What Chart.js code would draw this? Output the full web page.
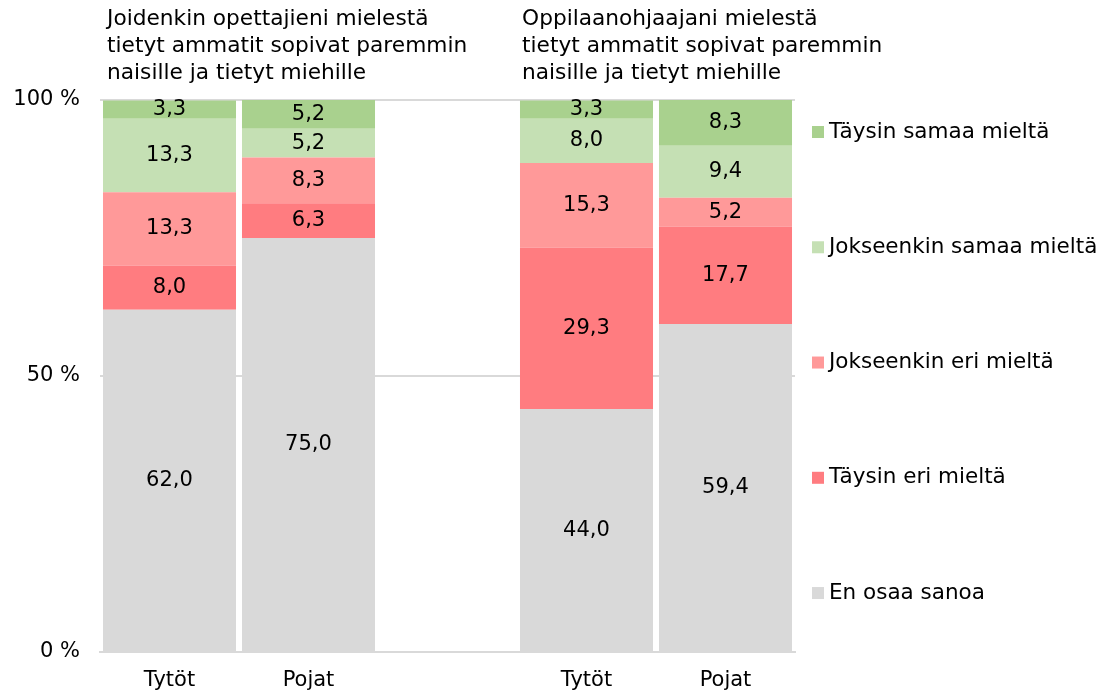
<!DOCTYPE html>
<html>
<head>
<meta charset="utf-8">
<script src="https://cdn.jsdelivr.net/npm/chart.js@4"></script>
<style>
  html, body { margin: 0; padding: 0; background: #fff; }
  #wrap { width: 1106px; height: 695px; }
</style>
</head>
<body>
<div id="wrap"><canvas id="chart" width="1106" height="695"></canvas></div>
<script>
// Kategoriat (tyhjä väli ryhmien välissä)
const categories = ["Tytöt", "Pojat", "", "Tytöt", "Pojat"];
const groupTitles = [
    ["Joidenkin opettajieni mielestä", "tietyt ammatit sopivat paremmin", "naisille ja tietyt miehille"],
    ["Oppilaanohjaajani mielestä", "tietyt ammatit sopivat paremmin", "naisille ja tietyt miehille"]
];
const yTicks = [0, 50, 100];

// Sarjat alhaalta ylös
const enOsaa = [62.0, 75.0, null, 44.0, 59.4];
const taysinEri = [8.0, 6.3, null, 29.3, 17.7];
const jokseenkinEri = [13.3, 8.3, null, 15.3, 5.2];
const jokseenkinSamaa = [13.3, 5.2, null, 8.0, 9.4];
const taysinSamaa = [3.3, 5.2, null, 3.3, 8.3];

const FONT = "'DejaVu Sans', Verdana, sans-serif";

// Arvot palkkien keskelle
const valueLabels = {
    id: "valueLabels",
    afterDatasetsDraw(chart) {
        const ctx = chart.ctx;
        ctx.save();
        ctx.font = "21px " + FONT;
        ctx.fillStyle = "#000";
        ctx.textAlign = "center";
        ctx.textBaseline = "middle";
        chart.data.datasets.forEach((ds, i) => {
            chart.getDatasetMeta(i).data.forEach((bar, j) => {
                const v = ds.data[j];
                if (v == null) return;
                const y = (bar.y + bar.base) / 2;
                ctx.fillText(v.toFixed(1).replace(".", ","), bar.x, y);
            });
        });
        ctx.restore();
    }
};

// Ryhmien otsikot ja selite oikealla
const headersAndLegend = {
    id: "headersAndLegend",
    afterDraw(chart) {
        const ctx = chart.ctx;
        const xs = chart.scales.x;
        const area = chart.chartArea;
        const step = xs.getPixelForValue(1) - xs.getPixelForValue(0);
        ctx.save();
        ctx.font = "21.7px " + FONT;
        ctx.fillStyle = "#000";
        ctx.textAlign = "left";
        ctx.textBaseline = "middle";
        [0, 3].forEach((idx, g) => {
            const left = xs.getPixelForValue(idx) - step * 0.478 + (g === 0 ? 4 : 2);
            groupTitles[g].forEach((line, k) => {
                ctx.fillText(line, left, 19 + k * 27);
            });
        });

        // selite käänteisessä järjestyksessä
        ctx.font = "21.5px " + FONT;
        const h = area.bottom - area.top;
        const dsets = chart.data.datasets.slice().reverse();
        dsets.forEach((ds, k) => {
            const y = area.top + h * 0.058 + k * h * 0.2088;
            ctx.fillStyle = ds.backgroundColor;
            ctx.fillRect(area.right + 17, y - 6, 12, 12);
            ctx.fillStyle = "#000";
            ctx.fillText(ds.label, area.right + 34, y);
        });
        ctx.restore();
    }
};

const ctx = document.getElementById("chart").getContext("2d");
new Chart(ctx, {
    type: "bar",
    data: {
        labels: categories,
        datasets: [
            { label: "En osaa sanoa", data: enOsaa, backgroundColor: "#D9D9D9" },
            { label: "Täysin eri mieltä", data: taysinEri, backgroundColor: "#FF7C80" },
            { label: "Jokseenkin eri mieltä", data: jokseenkinEri, backgroundColor: "#FF9999" },
            { label: "Jokseenkin samaa mieltä", data: jokseenkinSamaa, backgroundColor: "#C5E0B4" },
            { label: "Täysin samaa mieltä", data: taysinSamaa, backgroundColor: "#A9D18E" }
        ]
    },
    options: {
        responsive: false,
        animation: false,
        layout: { padding: { top: 100, left: 0, right: 311, bottom: 0 } },
        datasets: {
            bar: { categoryPercentage: 1.0, barPercentage: 0.957, borderWidth: 0 }
        },
        scales: {
            x: {
                stacked: true,
                grid: { display: false },
                border: { display: true, color: "#D9D9D9", width: 2 },
                ticks: { color: "#000", font: { family: FONT, size: 21 }, padding: 8 },
                afterFit(scale) { scale.height = 43; }
            },
            y: {
                stacked: true,
                min: 0,
                max: 100,
                afterBuildTicks(scale) { scale.ticks = yTicks.map(v => ({ value: v })); },
                grid: { color: "#D9D9D9", lineWidth: 2, drawTicks: false },
                border: { display: false },
                ticks: {
                    color: "#000",
                    font: { family: FONT, size: 21 },
                    padding: 20,
                    callback: v => v + " %"
                },
                afterFit(scale) { scale.width = 100; }
            }
        },
        plugins: {
            legend: { display: false },
            tooltip: { enabled: false }
        }
    },
    plugins: [valueLabels, headersAndLegend]
});
</script>
</body>
</html>
